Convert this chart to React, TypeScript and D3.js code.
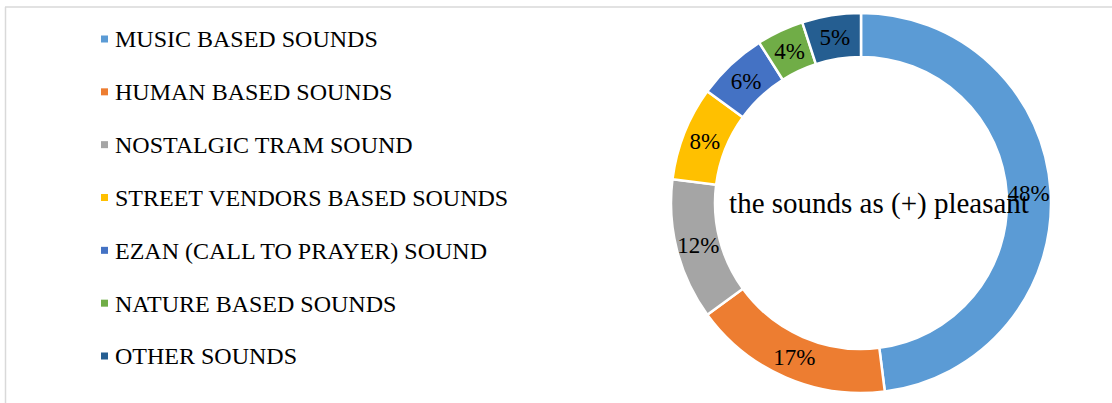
import React from "react";
import * as d3 from "d3";

const categories = [
  "MUSIC BASED SOUNDS",
  "HUMAN BASED SOUNDS",
  "NOSTALGIC TRAM SOUND",
  "STREET VENDORS BASED SOUNDS",
  "EZAN (CALL TO PRAYER) SOUND",
  "NATURE BASED SOUNDS",
  "OTHER SOUNDS",
];
const values = [48, 17, 12, 8, 6, 4, 5];
const colors = ["#5B9BD5", "#ED7D31", "#A5A5A5", "#FFC000", "#4472C4", "#70AD47", "#255E91"];
const centerTitle = "the sounds as (+) pleasant";

const W = 1112;
const H = 403;
const FONT = "'Liberation Serif', 'Times New Roman', serif";

export default function App() {
  const cx = 861;
  const cy = 203;
  const outerR = 190;
  const innerR = 146;
  const pie = d3.pie<number>().sort(null).value((d) => d)(values);
  const arc = d3.arc<d3.PieArcDatum<number>>().innerRadius(innerR).outerRadius(outerR);
  const total = d3.sum(values);
  const legendY = d3.scalePoint<number>().domain(d3.range(categories.length)).range([39, 356]);

  return (
    <div style={{ position: "absolute", left: 0, top: 0 }}>
      <svg width={W} height={H} style={{ display: "block", background: "#fff" }}>
        <line x1={5} y1={7} x2={W} y2={7} stroke="#d9d9d9" strokeWidth={1.5} />
        <line x1={5.5} y1={7} x2={5.5} y2={H} stroke="#d9d9d9" strokeWidth={1.5} />
        {categories.map((c, i) => (
          <g key={c}>
            <rect x={101} y={legendY(i)! - 3.5} width={7} height={7} fill={colors[i]} />
            <text
              x={115}
              y={legendY(i)!}
              dy="0.35em"
              fontFamily={FONT}
              fontSize={24}
              fill="#000"
            >
              {c}
            </text>
          </g>
        ))}
        <g transform={`translate(${cx},${cy})`}>
          {pie.map((p, i) => (
            <path key={i} d={arc(p)!} fill={colors[i]} stroke="#fff" strokeWidth={2.5} />
          ))}
          <text
            x={18}
            y={0}
            dy="0.35em"
            textAnchor="middle"
            fontFamily={FONT}
            fontSize={29}
            fill="#000"
          >
            {centerTitle}
          </text>
          {pie.map((p, i) => {
            const [x, y] = arc.centroid(p);
            return (
              <text
                key={"l" + i}
                x={x}
                y={y}
                dy="0.35em"
                textAnchor="middle"
                fontFamily={FONT}
                fontSize={23}
                fill="#000"
              >
                {`${Math.round((p.data / total) * 100)}%`}
              </text>
            );
          })}
        </g>
      </svg>
    </div>
  );
}
